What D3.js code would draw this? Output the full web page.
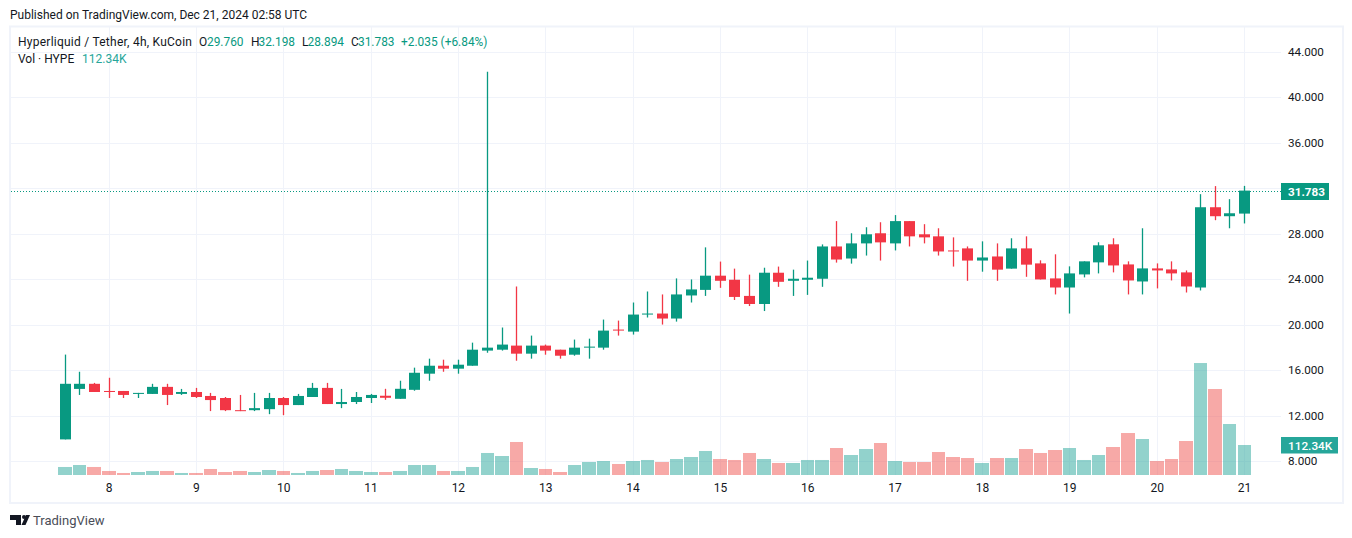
<!DOCTYPE html>
<html><head><meta charset="utf-8">
<script src="https://cdnjs.cloudflare.com/ajax/libs/d3/7.8.5/d3.min.js"></script>
<style>html,body{margin:0;padding:0;background:#fff}svg{display:block}text{font-family:Roboto,"Open Sans",sans-serif;font-size:12px}</style>
</head><body><svg id="c" width="1352" height="538"></svg>
<script>
const opens=[9.9,14.34,14.79,14.16,14.16,13.9,13.9,14.52,13.9,14.07,13.72,13.54,12.47,12.47,12.56,13.54,12.92,13.63,14.43,13.01,13.19,13.54,
13.74,13.47,14.26,15.68,16.38,16.12,16.38,17.71,17.79,18.15,17.44,18.15,17.79,17.35,17.97,17.97,19.56,19.38,20.88,20.97,20.53,22.56,23.05,
24.30,23.94,22.52,21.81,24.56,23.85,23.94,24.03,26.87,25.81,27.14,28.03,27.14,29.1,27.94,27.76,26.52,26.7,25.63,25.99,24.92,26.7,
25.38,24.06,23.26,24.41,25.47,27.06,25.29,23.79,24.94,24.85,24.59,23.26,30.32,29.53,29.76];
const highs=[17.36,15.85,14.87,15.32,14.16,13.99,14.79,14.79,14.34,14.43,13.99,13.63,13.81,13.99,13.99,13.63,13.9,14.87,14.87,14.34,14.07,13.9,
14.35,15.06,16.21,17.0,16.91,16.91,18.41,42.24,19.74,23.35,19.03,18.24,17.79,18.68,18.76,20.44,20.35,21.94,22.91,22.65,24.06,23.97,26.79,
25.54,24.92,24.39,25.0,25.1,24.83,25.63,27.05,29.1,28.03,28.56,29.0,29.63,29.1,28.83,28.47,27.67,26.87,27.32,27.14,27.59,27.76,
25.65,26.18,25.12,25.56,27.24,27.59,25.56,28.47,25.38,25.56,24.76,31.47,32.18,31.03,32.198];
const lows=[9.9,13.81,14.07,13.54,13.54,13.54,13.9,12.92,13.81,13.54,12.39,12.39,12.39,12.39,12.12,12.03,12.92,13.63,13.01,12.65,13.01,13.10,
13.38,13.47,14.18,15.06,15.85,15.68,16.38,17.53,17.71,16.82,17.0,17.35,17.0,17.26,17.0,17.79,19.03,19.12,20.62,20.0,20.26,21.94,22.52,
23.23,22.16,21.63,21.19,23.32,22.52,22.61,23.32,25.45,25.36,26.07,25.63,26.52,26.87,27.14,26.07,25.1,23.85,24.65,23.85,24.92,24.2,
23.97,22.65,20.97,24.15,24.5,24.59,22.65,22.65,23.18,23.88,22.82,23.0,29.18,28.47,28.894];
const closes=[14.79,14.79,14.07,14.07,13.81,13.99,14.52,13.81,14.07,13.63,13.36,12.47,12.39,12.65,13.54,12.92,13.72,14.43,13.01,13.19,13.63,13.81,
13.56,14.35,15.76,16.38,16.12,16.47,17.79,17.97,18.24,17.44,18.15,17.71,17.26,17.97,18.06,19.47,19.47,20.88,20.97,20.53,22.65,23.09,24.30,
23.85,22.43,21.81,24.56,23.76,24.03,24.12,26.87,25.72,27.14,27.94,27.23,29.1,27.76,27.67,26.43,26.43,25.63,25.9,24.83,26.7,25.27,
23.97,23.26,24.5,25.56,26.97,25.2,23.88,24.94,24.76,24.5,23.35,30.32,29.53,29.79,31.783];
const volumes=[30,37.4,30,15,7.5,11.2,15,15,7.5,7.5,22.5,11.2,15,11.2,18.7,15,7.5,15,18.7,22.5,15,11.2,
11.2,15,37.4,37.4,15,15,30,82.4,71.1,123.6,26.2,22.5,11.2,37.4,48.7,52.4,41.2,52.4,56.2,48.7,59.9,67.4,89.9,
59.9,56.2,82.4,59.9,44.9,44.9,56.2,56.2,101.1,74.9,97.3,119.8,52.4,48.7,48.7,86.1,67.4,63.6,44.9,63.6,63.6,97.3,
82.4,93.6,101.1,56.2,74.9,104.8,157.2,134.8,52.4,59.9,127.3,419.3,322,190.9,112.34];
const dayLabels=[8,9,10,11,12,13,14,15,16,17,18,19,20,21];
const priceTicks=[8,12,16,20,24,28,32,36,40,44];
const priceLabels=["8.000","12.000","16.000","20.000","24.000","28.000","","36.000","40.000","44.000"];
const legendName="Hyperliquid / Tether, 4h, KuCoin";
const lastPrice=31.783, lastVolume=112.34;

const GREEN="#089981",RED="#f23645",VG="rgba(38,166,154,.5)",VR="rgba(239,83,80,.5)",GRID="#f0f3fa",INK="#131722";
const svg=d3.select("#c");
const x=d3.scaleLinear().domain([3,81]).range([109.0,1244.5]);
const y=d3.scaleLinear().domain([8,44]).range([461,51.7]);
const v=d3.scaleLinear().domain([0,112.34]).range([475,445]);
const idx=d3.range(closes.length);
const dayIndex=d=>3+(d-8)*6;
const up=i=>closes[i]>=opens[i];
const bodyX=i=>Math.round(x(i)-5.5);

// frame
svg.append("rect").attr("x",10).attr("y",26.5).attr("width",1333).attr("height",476.5).attr("fill","none").attr("stroke","#f0f3fa").attr("stroke-width",2);
// grid
svg.append("g").selectAll("line").data(priceTicks).join("line")
 .attr("x1",11).attr("x2",1281).attr("y1",d=>Math.round(y(d))+.5).attr("y2",d=>Math.round(y(d))+.5).attr("stroke",GRID);
svg.append("g").selectAll("line").data(dayLabels).join("line")
 .attr("x1",d=>bodyX(dayIndex(d))+5.5).attr("x2",d=>bodyX(dayIndex(d))+5.5).attr("y1",27).attr("y2",475).attr("stroke",GRID);
// volume
svg.append("g").selectAll("rect").data(idx).join("rect")
 .attr("x",i=>Math.round(x(i)-7)).attr("width",i=>Math.round(x(i)+6.5)-Math.round(x(i)-7)).attr("y",i=>v(volumes[i])).attr("height",i=>475-v(volumes[i]))
 .attr("fill",i=>up(i)?VG:VR);
// last price line
svg.append("line").attr("x1",11).attr("x2",1281).attr("y1",Math.round(y(lastPrice))+.5).attr("y2",Math.round(y(lastPrice))+.5)
 .attr("stroke",GREEN).attr("stroke-dasharray","1 2");
// candles
svg.append("g").selectAll("line").data(idx).join("line")
 .attr("x1",i=>bodyX(i)+5.5).attr("x2",i=>bodyX(i)+5.5).attr("y1",i=>y(highs[i])).attr("y2",i=>y(lows[i]))
 .attr("stroke",i=>up(i)?GREEN:RED).attr("stroke-width",1.3);
svg.append("g").selectAll("rect").data(idx).join("rect")
 .attr("x",bodyX).attr("width",11)
 .attr("y",i=>y(Math.max(opens[i],closes[i])))
 .attr("height",i=>Math.max(1,y(Math.min(opens[i],closes[i]))-y(Math.max(opens[i],closes[i]))))
 .attr("fill",i=>up(i)?GREEN:RED);
// axis labels
svg.append("g").selectAll("text").data(priceTicks).join("text")
 .attr("x",1288).attr("y",d=>y(d)+4.3).attr("fill",INK).style("font-size","11.7px").text((d,i)=>priceLabels[i]);
svg.append("g").selectAll("text").data(dayLabels).join("text")
 .attr("x",d=>x(dayIndex(d))).attr("y",492).attr("text-anchor","middle").attr("fill",INK).text(d=>d);
// tags
svg.append("rect").attr("x",1281).attr("y",183).attr("width",48).attr("height",17).attr("fill",GREEN);
svg.append("text").attr("x",1288).attr("y",196).attr("fill","#fff").attr("font-weight",700).style("font-size","11.7px").text(lastPrice.toFixed(3));
svg.append("rect").attr("x",1281).attr("y",437).attr("width",57).attr("height",16.5).attr("fill","#26a69a");
svg.append("text").attr("x",1288).attr("y",449.5).attr("fill","#fff").attr("font-weight",500).style("font-size","11.8px").text(lastVolume+"K");
// legend
const last=closes.length-1;
const seg=[[199,"#131722","O"],[207,GREEN,opens[last].toFixed(3)],[251,"#131722","H"],[258.5,GREEN,highs[last].toFixed(3)],
[302,"#131722","L"],[307.5,GREEN,lows[last].toFixed(3)],[351,"#131722","C"],[358,GREEN,closes[last].toFixed(3)],[401,GREEN,"+2.035 (+6.84%)"]];
svg.append("text").attr("x",18).attr("y",46).attr("fill",INK).attr("textLength",174).text(legendName);
svg.append("g").selectAll("text").data(seg).join("text").attr("x",d=>d[0]).attr("y",46).attr("fill",d=>d[1]).style("font-size","11.9px").text(d=>d[2]);
svg.append("text").attr("x",18).attr("y",63).attr("fill",INK).text("Vol · HYPE");
svg.append("text").attr("x",82).attr("y",63).attr("fill","#26a69a").text(lastVolume+"K");
svg.append("text").attr("x",10).attr("y",19).attr("fill",INK).text("Published on TradingView.com, Dec 21, 2024 02:58 UTC");
// logo
const logo=svg.append("g").attr("fill","#131722");
logo.append("path").attr("d","M10 515H21V525H16V520H10Z");
logo.append("circle").attr("cx",24).attr("cy",517).attr("r",2);
logo.append("path").attr("d","M26 515H30L25.5 525H21.5Z");
svg.append("text").attr("x",33).attr("y",525).attr("fill","#4a4d57").style("font-size","13px").text("TradingView");
</script></body></html>
